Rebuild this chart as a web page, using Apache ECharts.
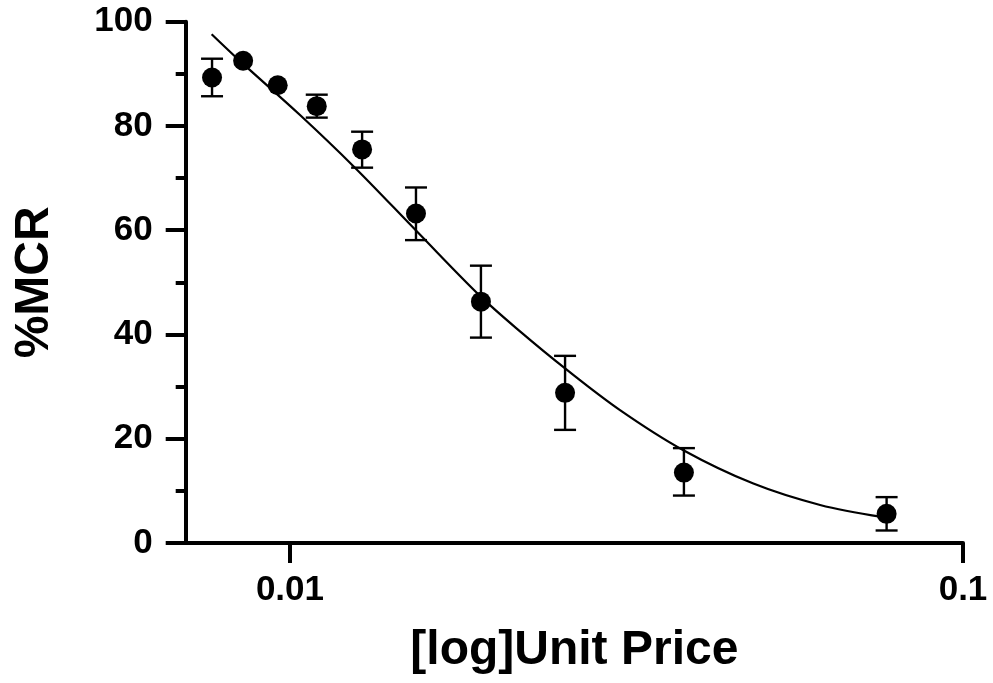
<!DOCTYPE html>
<html><head><meta charset="utf-8">
<script src="https://cdn.jsdelivr.net/npm/echarts@6/dist/echarts.min.js"></script>
<style>html,body{margin:0;padding:0;background:#fff}#c{width:993px;height:683px}</style>
</head><body><div id="c"></div>
<script>
// Observed points
const unitPrice = [0.00766, 0.00852, 0.00959, 0.01096, 0.0128, 0.01539, 0.01922, 0.02563, 0.03849, 0.0770];
const mcr       = [89.3, 92.5, 87.8, 83.8, 75.5, 63.2, 46.3, 28.8, 13.5, 5.6];
const mcrLow    = [85.7, null, null, 81.6, 72.0, 58.1, 39.4, 21.7, 9.1, 2.4];
const mcrHigh   = [92.9, null, null, 86.0, 78.9, 68.2, 53.2, 35.9, 18.2, 8.8];
// Fitted curve
const fitPrice = [0.00765, 0.00852, 0.01035, 0.01249, 0.01543, 0.01916, 0.02197, 0.02563, 0.03093, 0.03842, 0.04881, 0.06133, 0.07572];
const fitMcr   = [97.6, 91.9, 82.1, 72.0, 59.8, 47.4, 40.6, 33.5, 25.5, 17.8, 11.4, 7.3, 5.0];
// Axis ticks
const xTickValues = [0.01, 0.1];
const xTickLabels = ['0.01', '0.1'];
const xRange = [0.007, 0.1];
const yRange = [0, 100];
const yStep = 20;

const L = Math.log10;
const FONT = '"Liberation Sans", Arial, Helvetica, sans-serif';
const xTickLog = xTickValues.map(L);

const scatterData = unitPrice.map((p, i) => [L(p), mcr[i]]);
const errData = [];
unitPrice.forEach((p, i) => {
  if (mcrLow[i] != null && mcrHigh[i] != null) errData.push([L(p), mcrLow[i], mcrHigh[i]]);
});
const fitData = fitPrice.map((p, i) => [L(p), fitMcr[i]]);

const chart = echarts.init(document.getElementById('c'), null, {renderer: 'canvas'});
chart.setOption({
  animation: false,
  backgroundColor: '#fff',
  grid: {left: 185.7, right: 30, top: 21.7, bottom: 140, outerBoundsMode: 'none'},
  xAxis: {
    type: 'value',
    min: L(xRange[0]), max: L(xRange[1]),
    axisLine: {onZero: false, lineStyle: {color: '#000', width: 4}},
    axisTick: {customValues: xTickLog, length: 20, lineStyle: {color: '#000', width: 4}},
    axisLabel: {
      customValues: xTickLog, margin: 30,
      fontSize: 35, fontWeight: 'bold', color: '#000', fontFamily: FONT,
      formatter: v => {
        for (let i = 0; i < xTickLog.length; i++) if (Math.abs(xTickLog[i] - v) < 1e-9) return xTickLabels[i];
        return '';
      }
    },
    splitLine: {show: false},
    name: '[log]Unit Price', nameLocation: 'middle', nameGap: 84,
    nameTextStyle: {fontSize: 48, fontWeight: 'bold', color: '#000', fontFamily: FONT}
  },
  yAxis: {
    type: 'value', min: yRange[0], max: yRange[1], interval: yStep,
    axisLine: {show: true, onZero: false, lineStyle: {color: '#000', width: 4}},
    axisTick: {show: true, length: 20, lineStyle: {color: '#000', width: 4}},
    minorTick: {show: true, splitNumber: 2, length: 10, lineStyle: {color: '#000', width: 4}},
    axisLabel: {margin: 33, fontSize: 35, fontWeight: 'bold', color: '#000', fontFamily: FONT},
    splitLine: {show: false},
    minorSplitLine: {show: false},
    name: '%MCR', nameLocation: 'middle', nameGap: 127,
    nameTextStyle: {fontSize: 48, fontWeight: 'bold', color: '#000', fontFamily: FONT}
  },
  series: [
    {
      type: 'line', data: fitData, smooth: 0.35, symbol: 'none',
      lineStyle: {color: '#000', width: 2.2}, silent: true, z: 2
    },
    {
      type: 'custom', data: errData, encode: {x: 0, y: [1, 2]}, z: 3,
      renderItem: (params, api) => {
        const x = api.value(0);
        const lo = api.coord([x, api.value(1)]);
        const hi = api.coord([x, api.value(2)]);
        const w = 11;
        const st = {stroke: '#000', lineWidth: 2.4};
        return {type: 'group', children: [
          {type: 'line', shape: {x1: lo[0], y1: lo[1], x2: hi[0], y2: hi[1]}, style: st},
          {type: 'line', shape: {x1: lo[0] - w, y1: lo[1], x2: lo[0] + w, y2: lo[1]}, style: st},
          {type: 'line', shape: {x1: hi[0] - w, y1: hi[1], x2: hi[0] + w, y2: hi[1]}, style: st}
        ]};
      }
    },
    {
      type: 'scatter', data: scatterData, symbol: 'circle', symbolSize: 20,
      itemStyle: {color: '#000', opacity: 1}, z: 4
    }
  ]
});
</script>
</body></html>
